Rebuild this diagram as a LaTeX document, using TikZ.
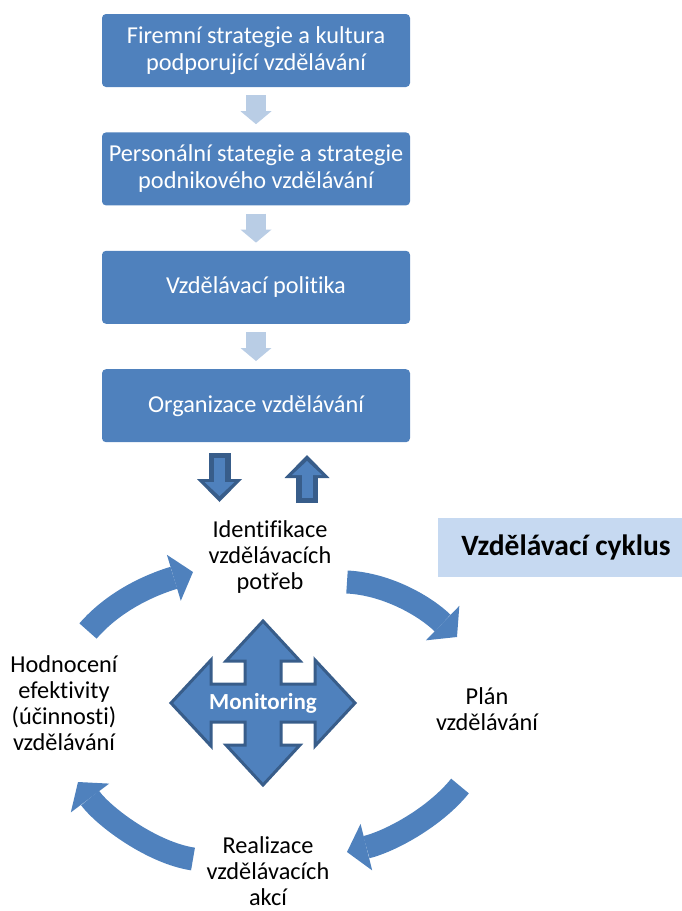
\documentclass[tikz,border=0pt]{standalone}
\usepackage{fontspec}
\setmainfont{Carlito}[Ligatures=NoCommon]
\usetikzlibrary{positioning,arrows.meta}
\definecolor{boxblue}{RGB}{79,129,189}
\definecolor{arrdark}{RGB}{56,93,138}
\definecolor{paleblue}{RGB}{185,205,229}
\definecolor{titleblue}{RGB}{198,217,241}
\tikzset{
  stepbox/.style={rectangle, rounded corners=4pt, fill=boxblue, text=white,
    minimum width=308pt, minimum height=73pt, align=center,
    font=\fontsize{24.3}{27}\selectfont},
  palearr/.style={draw=paleblue, line width=20pt,
    -{Triangle[length=13pt,width=31pt,line width=0pt]}},
  blockarr/.style={draw=arrdark, line width=22pt,
    -{Triangle[length=23pt,width=45pt,line width=0pt]},
    postaction={draw=boxblue, line width=11pt, shorten <=5pt, shorten >=6pt,
      -{Triangle[length=14pt,width=30pt,line width=0pt]}}},
  cyctext/.style={align=center, inner sep=0pt, font=\fontsize{24.3}{26}\selectfont},
  cycarrow/.style={draw=boxblue, line width=23pt,
    -{Triangle[length=20pt,width=48pt,line width=0pt]}},
  crossarr/.style={fill=boxblue, draw=arrdark, line width=3pt, line join=miter},
}

\begin{document}
\begin{tikzpicture}[x=1pt,y=-1pt]
    \useasboundingbox (0,0) rectangle (682,911);

    % Stupne vzdelavani
    \node[stepbox] (firm) at (256,50.5) {Firemní strategie a kultura\\podporující vzdělávání};
    \node[stepbox, below=45pt of firm] (pers) {Personální stategie a strategie\\podnikového vzdělávání};
    \node[stepbox, below=45pt of pers] (polit) {Vzdělávací politika};
    \node[stepbox, below=45pt of polit] (organ) {Organizace vzdělávání};

    \draw[palearr] ([yshift=-8pt]firm.south) -- ([yshift=8pt]pers.north);
    \draw[palearr] ([yshift=-8pt]pers.south) -- ([yshift=8pt]polit.north);
    \draw[palearr] ([yshift=-8pt]polit.south) -- ([yshift=8pt]organ.north);

    % Sipky k cyklu
    \coordinate (dwtop) at (219.5,453);
    \coordinate (dwbot) at (219.5,502);
    \coordinate (uptop) at (307,455);
    \coordinate (upbot) at (307,503);
    \draw[blockarr] (dwtop) -- (dwbot);
    \draw[blockarr] (upbot) -- (uptop);

    \node[fill=titleblue, minimum width=256pt, minimum height=59pt,
      font=\fontsize{29.5}{32}\selectfont\bfseries] (cyklus) at (566,547.5) {Vzdělávací cyklus};

    % Vzdelavaci cyklus
    \node[cyctext] (ident) at (270,557) {Identifikace\\vzdělávacích\\potřeb};
    \node[cyctext] (plan) at (487,709) {Plán\\vzdělávání};
    \node[cyctext] (realiz) at (268,871) {Realizace\\vzdělávacích\\akcí};
    \node[cyctext] (hodn) at (64,703) {Hodnocení\\efektivity\\(účinnosti)\\vzdělávání};

    \coordinate (c1s) at (88,631);  \coordinate (c1e) at (193,572);
    \coordinate (c2s) at (347,582); \coordinate (c2e) at (457,637);
    \coordinate (c3s) at (460,786); \coordinate (c3e) at (347,852);
    \coordinate (c4s) at (193,859); \coordinate (c4e) at (78,782);
    \draw[cycarrow] (c1s) .. controls (114,601) and (150,585) .. (c1e);
    \draw[cycarrow] (c2s) .. controls (387,584) and (425,606) .. (c2e);
    \draw[cycarrow] (c3s) .. controls (435,817) and (391,841) .. (c3e);
    \draw[cycarrow] (c4s) .. controls (153,853) and (105,818) .. (c4e);

    % Monitoring
    \begin{scope}[shift={(263,703)}]
        \draw[crossarr] (0,-82) -- (37,-42) -- (18,-42) -- (18,-19) -- (52,-19) -- (52,-43)
            -- (92,0) -- (52,43) -- (52,19) -- (18,19) -- (18,42) -- (37,42)
            -- (0,82) -- (-37,42) -- (-18,42) -- (-18,19) -- (-52,19) -- (-52,43)
            -- (-92,0) -- (-52,-43) -- (-52,-19) -- (-18,-19) -- (-18,-42) -- (-37,-42) -- cycle;
        \node[text=white, font=\fontsize{23}{26}\selectfont\bfseries] (monit) at (0,0) {Monitoring};
    \end{scope}
\end{tikzpicture}
\end{document}
